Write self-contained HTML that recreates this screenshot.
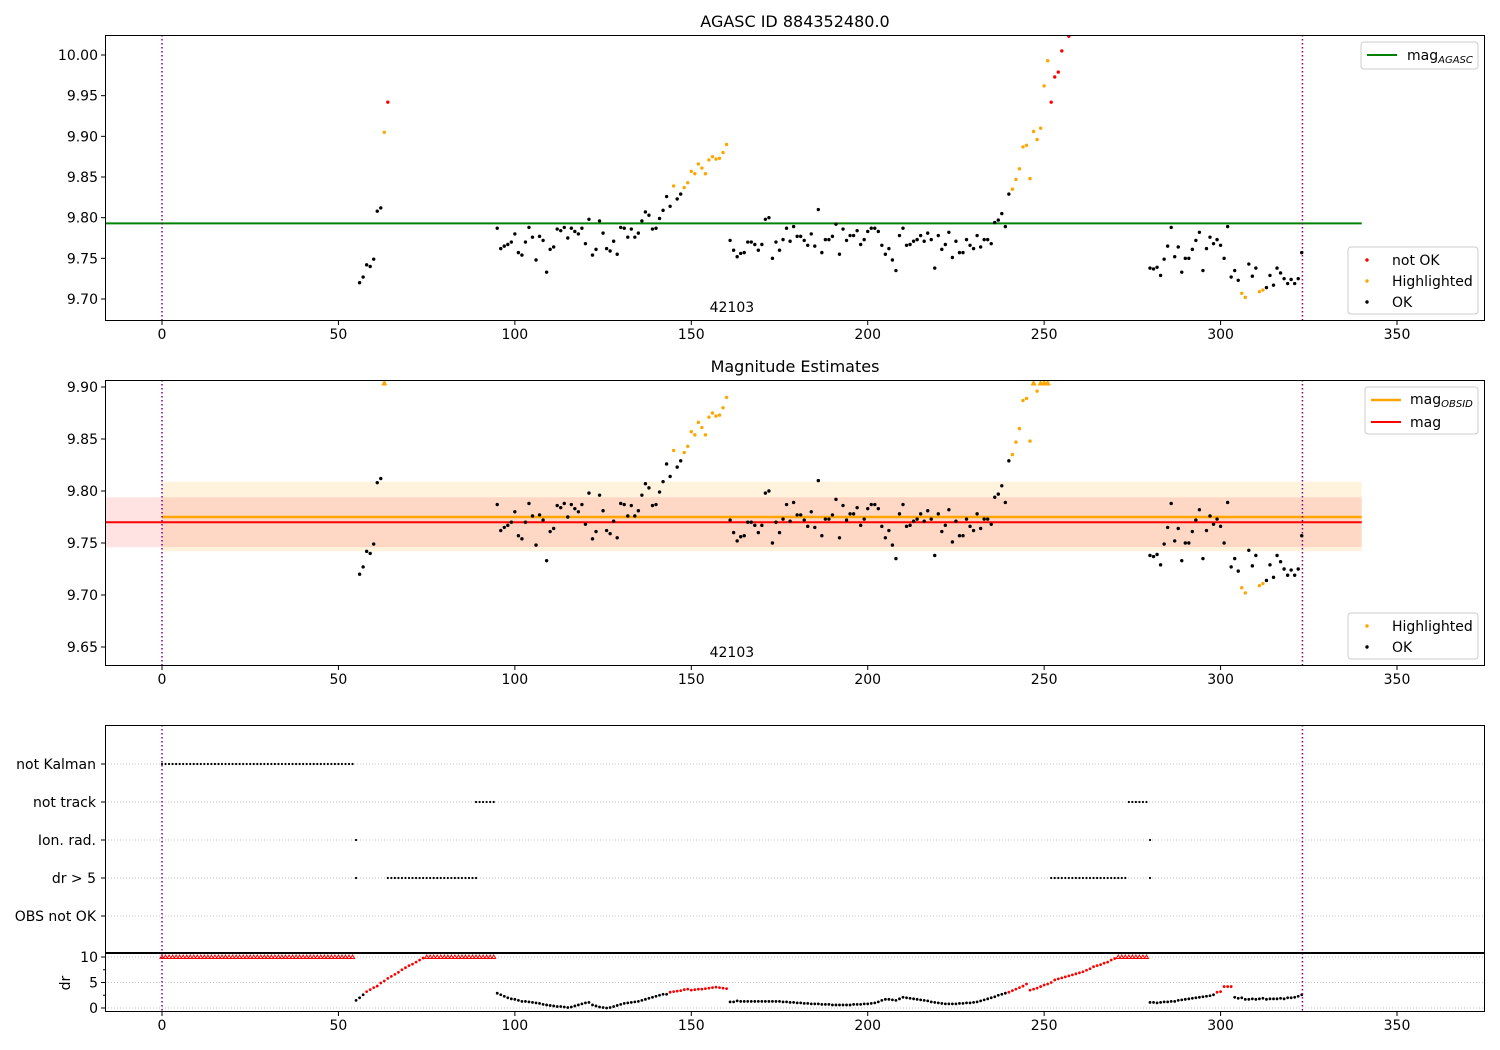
<!DOCTYPE html>
<html><head><meta charset="utf-8"><style>
html,body{margin:0;padding:0;background:#fff}
svg{display:block;font-family:"DejaVu Sans","Liberation Sans",sans-serif}
</style></head><body>
<svg id="chart" width="1500" height="1050" viewBox="0 0 1500 1050" xmlns="http://www.w3.org/2000/svg"></svg>
<script>
// ---- data ----
const obsTime = [56,57,58,59,60,61,62,63,64,
95,96,97,98,99,100,101,102,103,104,105,106,107,108,109,110,111,112,113,114,115,116,117,118,119,120,121,122,123,124,125,126,127,128,129,130,131,132,133,134,135,136,137,138,139,140,141,142,143,144,145,146,147,148,149,150,151,152,153,154,155,156,157,158,159,160,
161,162,163,164,165,166,167,168,169,170,171,172,173,174,175,176,177,178,179,180,181,182,183,184,185,186,187,188,189,190,191,192,193,194,195,196,197,198,199,200,201,202,203,204,205,206,207,208,209,210,211,212,213,214,215,216,217,218,219,220,221,222,223,224,225,226,227,228,229,230,231,232,233,234,235,236,237,238,239,240,
241,242,243,244,245,246,247,248,249,250,251,252,253,254,255,257,
280,281,282,283,284,285,286,287,288,289,290,291,292,293,294,295,296,297,298,299,300,301,302,303,304,305,306,307,308,309,310,311,312,313,314,315,316,317,318,319,320,321,322,323];
const obsMag = [9.720,9.727,9.742,9.740,9.749,9.808,9.812,9.905,9.942,
9.787,9.762,9.765,9.767,9.770,9.780,9.757,9.754,9.770,9.788,9.776,9.748,9.777,9.772,9.733,9.761,9.764,9.786,9.784,9.788,9.775,9.787,9.783,9.780,9.787,9.768,9.798,9.754,9.761,9.796,9.781,9.762,9.759,9.771,9.755,9.788,9.787,9.776,9.786,9.776,9.781,9.796,9.807,9.803,9.786,9.787,9.799,9.809,9.826,9.814,9.839,9.823,9.829,9.837,9.843,9.857,9.854,9.866,9.861,9.854,9.871,9.875,9.872,9.873,9.880,9.890,
9.772,9.760,9.752,9.756,9.757,9.770,9.770,9.767,9.760,9.767,9.798,9.800,9.750,9.770,9.760,9.773,9.787,9.771,9.789,9.777,9.777,9.772,9.766,9.780,9.765,9.810,9.757,9.773,9.773,9.777,9.792,9.755,9.786,9.772,9.778,9.778,9.784,9.767,9.773,9.783,9.787,9.787,9.783,9.766,9.755,9.762,9.748,9.735,9.778,9.787,9.766,9.767,9.771,9.773,9.778,9.771,9.781,9.773,9.738,9.778,9.761,9.767,9.782,9.751,9.771,9.757,9.757,9.773,9.766,9.762,9.778,9.764,9.773,9.773,9.768,9.794,9.797,9.805,9.789,9.829,
9.835,9.847,9.860,9.887,9.889,9.848,9.906,9.896,9.910,9.962,9.993,9.942,9.973,9.979,10.005,10.023,
9.738,9.737,9.739,9.729,9.749,9.765,9.788,9.752,9.764,9.733,9.750,9.750,9.761,9.772,9.782,9.735,9.762,9.776,9.768,9.773,9.766,9.750,9.789,9.727,9.735,9.723,9.707,9.702,9.743,9.728,9.738,9.709,9.711,9.714,9.729,9.717,9.738,9.732,9.725,9.719,9.724,9.719,9.725,9.757];
const highlightedTimes = [63,145,148,149,150,151,152,153,154,155,156,157,158,159,160,241,242,243,244,245,246,247,248,249,250,251,306,307,311,312];
const notOkTimes = [64,252,253,254,255,257];
const magAgasc = 9.793;
const magObsid = 9.775, magObsidLo = 9.742, magObsidHi = 9.809;
const magAll = 9.770, magAllLo = 9.746, magAllHi = 9.794;
const obsStart = 0, obsEnd = 323.2, obsidLabel = "42103", obsLabelT = 161.5;
const drTime = [];
const drVal = [10,10,10,10,10,10,10,10,10,10,10,10,10,10,10,10,10,10,10,10,10,10,10,10,10,10,10,10,10,10,10,10,10,10,10,10,10,10,10,10,10,10,10,10,10,10,10,10,10,10,10,10,10,10,10,
1.5,2.0,2.6,3.2,3.6,4.0,4.3,4.9,5.3,5.8,6.2,6.6,7.0,7.5,7.9,8.3,8.6,9.0,9.4,9.8,10,10,10,10,10,10,10,10,10,10,10,10,10,10,10,10,10,10,10,10,
2.9,2.6,2.3,2.0,1.8,1.7,1.5,1.3,1.3,1.2,1.1,1.0,0.9,0.7,0.6,0.5,0.4,0.3,0.3,0.2,0.1,0.2,0.4,0.6,0.8,1.0,1.1,0.6,0.4,0.2,0.1,0.0,0.1,0.3,0.5,0.7,0.9,1.0,1.1,1.2,1.3,1.5,1.7,1.9,2.1,2.3,2.5,2.7,2.7,3.1,3.2,3.3,3.4,3.6,3.7,3.5,3.6,3.7,3.7,3.8,3.9,4.0,4.1,4.0,3.9,3.8,
1.2,1.2,1.4,1.3,1.3,1.3,1.3,1.3,1.3,1.3,1.3,1.3,1.3,1.3,1.3,
1.2,1.2,1.1,1.1,1.0,1.0,0.9,0.9,0.8,0.8,0.8,0.7,0.7,0.7,0.6,0.6,0.6,
0.6,0.6,0.6,0.7,0.7,0.7,0.8,0.8,0.9,1.0,1.2,1.5,1.7,1.7,1.6,1.5,1.8,2.1,
2.0,1.9,1.8,1.7,1.6,1.5,1.4,1.2,1.1,1.0,0.9,0.8,0.8,0.8,0.8,0.9,0.9,1.0,1.0,1.1,1.2,1.4,1.6,1.8,2.0,2.2,2.5,
2.7,2.9,3.1,3.4,3.7,4.0,4.3,4.7,3.5,3.7,3.9,4.2,4.5,4.7,
5.0,5.5,5.7,5.9,6.1,6.3,6.5,6.7,6.9,7.1,7.4,7.7,8.1,8.3,8.5,8.8,9.0,9.4,9.7,
10,10,10,10,10,10,10,10,10,
1.1,1.1,1.0,1.1,1.2,1.2,1.3,1.3,1.5,1.6,1.7,1.8,1.9,2.0,2.1,2.2,2.3,2.4,2.6,3.1,3.2,4.2,4.2,4.2,2.1,1.9,2.0,1.7,1.7,1.8,1.7,1.8,1.9,1.7,1.8,1.8,1.8,1.9,1.8,2.0,2.0,2.1,2.3,2.6];
const drSegments = [[0,94],[95,160],[161,279],[280,323]];
const flagLabels = ["not Kalman","not track","Ion. rad.","dr > 5","OBS not OK"];
const flagRanges = [[[0,54]],[[89,94],[274,279]],[[55,55],[280,280]],[[55,55],[64,89],[252,273],[280,280]],[]];
const xTicks = [0,50,100,150,200,250,300,350];
const y1Ticks = [9.70,9.75,9.80,9.85,9.90,9.95,10.00];
const y2Ticks = [9.65,9.70,9.75,9.80,9.85,9.90];
const drTicks = [0,5,10];
for (const s of drSegments) for (let t = s[0]; t <= s[1]; t++) drTime.push(t);
const statusOf = t => notOkTimes.includes(t) ? 2 : (highlightedTimes.includes(t) ? 1 : 0);

// ---- scales ----
const L = 105, R = 1485, FS = 14;
const X = v => 162 + v * 3.5286;
const P1 = {top: 35, bot: 321}, P2 = {top: 380, bot: 666}, P3 = {top: 725, bot: 953}, P4 = {top: 953, bot: 1012};
const Y1 = m => 55 + (10 - m) * 813.3;
const Y2 = m => 387 + (9.9 - m) * 1040;
const YD = d => 1008 - d * 5.1;
const flagY = i => 764 + i * 38;

const svg = document.getElementById('chart');
const NS = 'http://www.w3.org/2000/svg';
function mk(tag, attrs, parent) {
  const e = document.createElementNS(NS, tag);
  for (const k in attrs) e.setAttribute(k, attrs[k]);
  (parent || svg).appendChild(e);
  return e;
}
function group(name) {
  const g = mk('g', {});
  
  
  return g;
}
function txt(g, x, y, s, anchor, size, name) {
  const t = mk('text', {x: x, y: y, 'text-anchor': anchor || 'middle', 'font-size': size || FS, fill: '#000'}, g);
  t.textContent = s;
  
  
  return t;
}
function clip(id, p) {
  const c = mk('clipPath', {id: id});
  mk('rect', {x: L, y: p.top, width: R - L, height: p.bot - p.top}, c);
}
clip('c1', P1); clip('c2', P2); clip('c4', P4);

function xAxis(p, name) {
  const g = group(name);
  for (const t of xTicks) {
    const x = X(t);
    mk('line', {x1: x, x2: x, y1: p.bot, y2: p.bot + 4, stroke: '#000', 'stroke-width': 1}, g);
    txt(g, x, p.bot + 18, String(t), 'middle', FS, 'x-tick-label');
  }
}
function yAxis(p, ticks, Y, name, dec) {
  const g = group(name);
  for (const t of ticks) {
    const y = Y(t);
    mk('line', {x1: L - 4, x2: L, y1: y, y2: y, stroke: '#000'}, g);
    txt(g, L - 7, y + 5, t.toFixed(dec), 'end', FS, 'y-tick-label');
  }
}
function frame(p, name) {
  const r = mk('rect', {x: L + 0.5, y: p.top + 0.5, width: R - L - 1, height: p.bot - p.top - 1, fill: 'none', stroke: '#000', 'stroke-width': 1});
  
  
}
function vlines(p) {
  const g = group('observation-bounds');
  for (const t of [obsStart, obsEnd]) {
    mk('line', {x1: X(t), x2: X(t), y1: p.top, y2: p.bot, stroke: '#800080', 'stroke-width': 1.5, 'stroke-dasharray': '1.5,2.5'}, g);
  }
}
const col = ['#000', '#ffa500', '#ff0000'];
function dots(gname, Y, clipId, showBad, capTop, triY) {
  const g = group(gname);
  g.setAttribute('clip-path', 'url(#' + clipId + ')');
  for (let i = 0; i < obsTime.length; i++) {
    const s = statusOf(obsTime[i]);
    if (s === 2 && !showBad) continue;
    const x = X(obsTime[i]);
    if (capTop && obsMag[i] > capTop) {
      const y = triY;
      const tri = mk('polygon', {points: (x - 3) + ',' + (y + 2.5) + ' ' + (x + 3) + ',' + (y + 2.5) + ' ' + x + ',' + (y - 3.5), fill: col[s]}, g);
      
      
      continue;
    }
    const c = mk('circle', {cx: x, cy: Y(obsMag[i]), r: 1.7, fill: col[s]}, g);
    
    
  }
}
function legendBox(x, y, w, h, name) {
  const g = group(name);
  mk('rect', {x: x, y: y, width: w, height: h, rx: 3, fill: '#fff', 'fill-opacity': 0.8, stroke: '#ccc'}, g);
  return g;
}
function subText(g, x, y, main, sub, name) {
  const t = mk('text', {x: x, y: y, 'font-size': FS}, g);
  
  
  const a = mk('tspan', {}, t); a.textContent = main;
  if (sub) { const b = mk('tspan', {'font-size': 10, 'font-style': 'italic', dy: 3}, t); b.textContent = sub; }
}

// ---- titles ----
const tg = group('titles');
txt(tg, 795, 27, 'AGASC ID 884352480.0', 'middle', 16, 'chart-title');
txt(tg, 795, 372, 'Magnitude Estimates', 'middle', 16, 'panel2-title');

// ---- panel 1 ----
mk('line', {x1: L, x2: X(340), y1: Y1(magAgasc), y2: Y1(magAgasc), stroke: '#008000', 'stroke-width': 2});
vlines(P1);
dots('panel1-points', Y1, 'c1', true, 0, 0);
txt(svg, X(obsLabelT), 312, obsidLabel, 'middle', FS, 'obsid-label-1');
frame(P1, 'panel1-frame'); xAxis(P1, 'panel1-x-axis'); yAxis(P1, y1Ticks, Y1, 'panel1-y-axis', 2);
let lg = legendBox(1361, 42, 117, 27, 'legend-agasc');
mk('line', {x1: 1367, x2: 1397, y1: 55, y2: 55, stroke: '#008000', 'stroke-width': 2}, lg);
subText(lg, 1407, 60, 'mag', 'AGASC', 'legend-entry-mag-agasc');
lg = legendBox(1348, 247, 130, 67, 'legend-status');
const labs = ['not OK', 'Highlighted', 'OK'], lc = ['#ff0000', '#ffa500', '#000'];
for (let i = 0; i < 3; i++) {
  mk('circle', {cx: 1367, cy: 260 + i * 21, r: 1.7, fill: lc[i]}, lg);
  txt(lg, 1392, 265 + i * 21, labs[i], 'start', FS, 'legend-entry-' + labs[i].toLowerCase().replace(' ', '-'));
}

// ---- panel 2 ----
const bg = group('uncertainty-bands');
mk('rect', {x: X(0), y: Y2(magObsidHi), width: X(340) - X(0), height: Y2(magObsidLo) - Y2(magObsidHi), fill: '#ffa500', 'fill-opacity': 0.13}, bg);
mk('rect', {x: L, y: Y2(magAllHi), width: X(340) - L, height: Y2(magAllLo) - Y2(magAllHi), fill: '#ff0000', 'fill-opacity': 0.11}, bg);
mk('line', {x1: X(0), x2: X(340), y1: Y2(magObsid), y2: Y2(magObsid), stroke: '#ffa500', 'stroke-width': 2.5});
mk('line', {x1: L, x2: X(340), y1: Y2(magAll), y2: Y2(magAll), stroke: '#ff0000', 'stroke-width': 2});
vlines(P2);
dots('panel2-points', Y2, 'c2', false, 9.9, 383);
txt(svg, X(obsLabelT), 657, obsidLabel, 'middle', FS, 'obsid-label-2');
frame(P2, 'panel2-frame'); xAxis(P2, 'panel2-x-axis'); yAxis(P2, y2Ticks, Y2, 'panel2-y-axis', 2);
lg = legendBox(1365, 387, 113, 47, 'legend-mag');
mk('line', {x1: 1371, x2: 1401, y1: 400, y2: 400, stroke: '#ffa500', 'stroke-width': 2.5}, lg);
subText(lg, 1410, 404, 'mag', 'OBSID', 'legend-entry-mag-obsid');
mk('line', {x1: 1371, x2: 1401, y1: 422, y2: 422, stroke: '#ff0000', 'stroke-width': 2}, lg);
subText(lg, 1410, 427, 'mag', '', 'legend-entry-mag');
lg = legendBox(1348, 613, 130, 46, 'legend-status-2');
for (let i = 1; i < 3; i++) {
  mk('circle', {cx: 1367, cy: 605 + i * 21, r: 1.7, fill: lc[i]}, lg);
  txt(lg, 1392, 610 + i * 21, labs[i], 'start', FS, 'legend-entry-' + labs[i].toLowerCase());
}

// ---- panel 3 flags ----
const fg = group('flags-panel');
for (let i = 0; i < flagLabels.length; i++) {
  const y = flagY(i);
  mk('line', {x1: L, x2: R, y1: y, y2: y, stroke: '#b0b0b0', 'stroke-width': 0.8, 'stroke-dasharray': '1,2'}, fg);
  mk('line', {x1: L - 4, x2: L, y1: y, y2: y, stroke: '#000'}, fg);
  txt(fg, L - 9, y + 5, flagLabels[i], 'end', FS, 'flag-label');
  for (const r of flagRanges[i]) for (let t = r[0]; t <= r[1]; t++) {
    const c = mk('circle', {cx: X(t), cy: y, r: 1.1, fill: '#000'}, fg);
    
    
  }
}
vlines(P3);
frame(P3, 'flags-frame');

// ---- dr panel ----
const dg = group('dr-panel');
for (const t of drTicks) {
  mk('line', {x1: L, x2: R, y1: YD(t), y2: YD(t), stroke: '#b0b0b0', 'stroke-width': 0.8, 'stroke-dasharray': '1,2'}, dg);
  mk('line', {x1: L - 4, x2: L, y1: YD(t), y2: YD(t), stroke: '#000'}, dg);
  txt(dg, L - 7, YD(t) + 5, String(t), 'end', FS, 'dr-tick-label');
}
for (const t of [2.5, 7.5]) mk('line', {x1: L - 2, x2: L, y1: YD(t), y2: YD(t), stroke: '#000'}, dg);
const lab = txt(dg, 0, 0, 'dr', 'middle', FS, 'dr-axis-title');
lab.setAttribute('transform', 'translate(70,983) rotate(-90)');
const dp = group('dr-points');
dp.setAttribute('clip-path', 'url(#c4)');
for (let i = 0; i < drTime.length; i++) {
  const d = drVal[i], x = X(drTime[i]), c = d > 3 ? '#ff0000' : '#000';
  let e;
  if (d >= 10) {
    const y = YD(10);
    e = mk('polygon', {points: (x - 2) + ',' + (y + 1.5) + ' ' + (x + 2) + ',' + (y + 1.5) + ' ' + x + ',' + (y - 2), fill: 'none', stroke: c, 'stroke-width': 1}, dp);
  } else {
    e = mk('circle', {cx: x, cy: YD(d), r: 1.4, fill: c}, dp);
  }
  
  
}
vlines(P4);
frame(P4, 'dr-frame');
xAxis(P4, 'dr-x-axis');
</script>
</body></html>
